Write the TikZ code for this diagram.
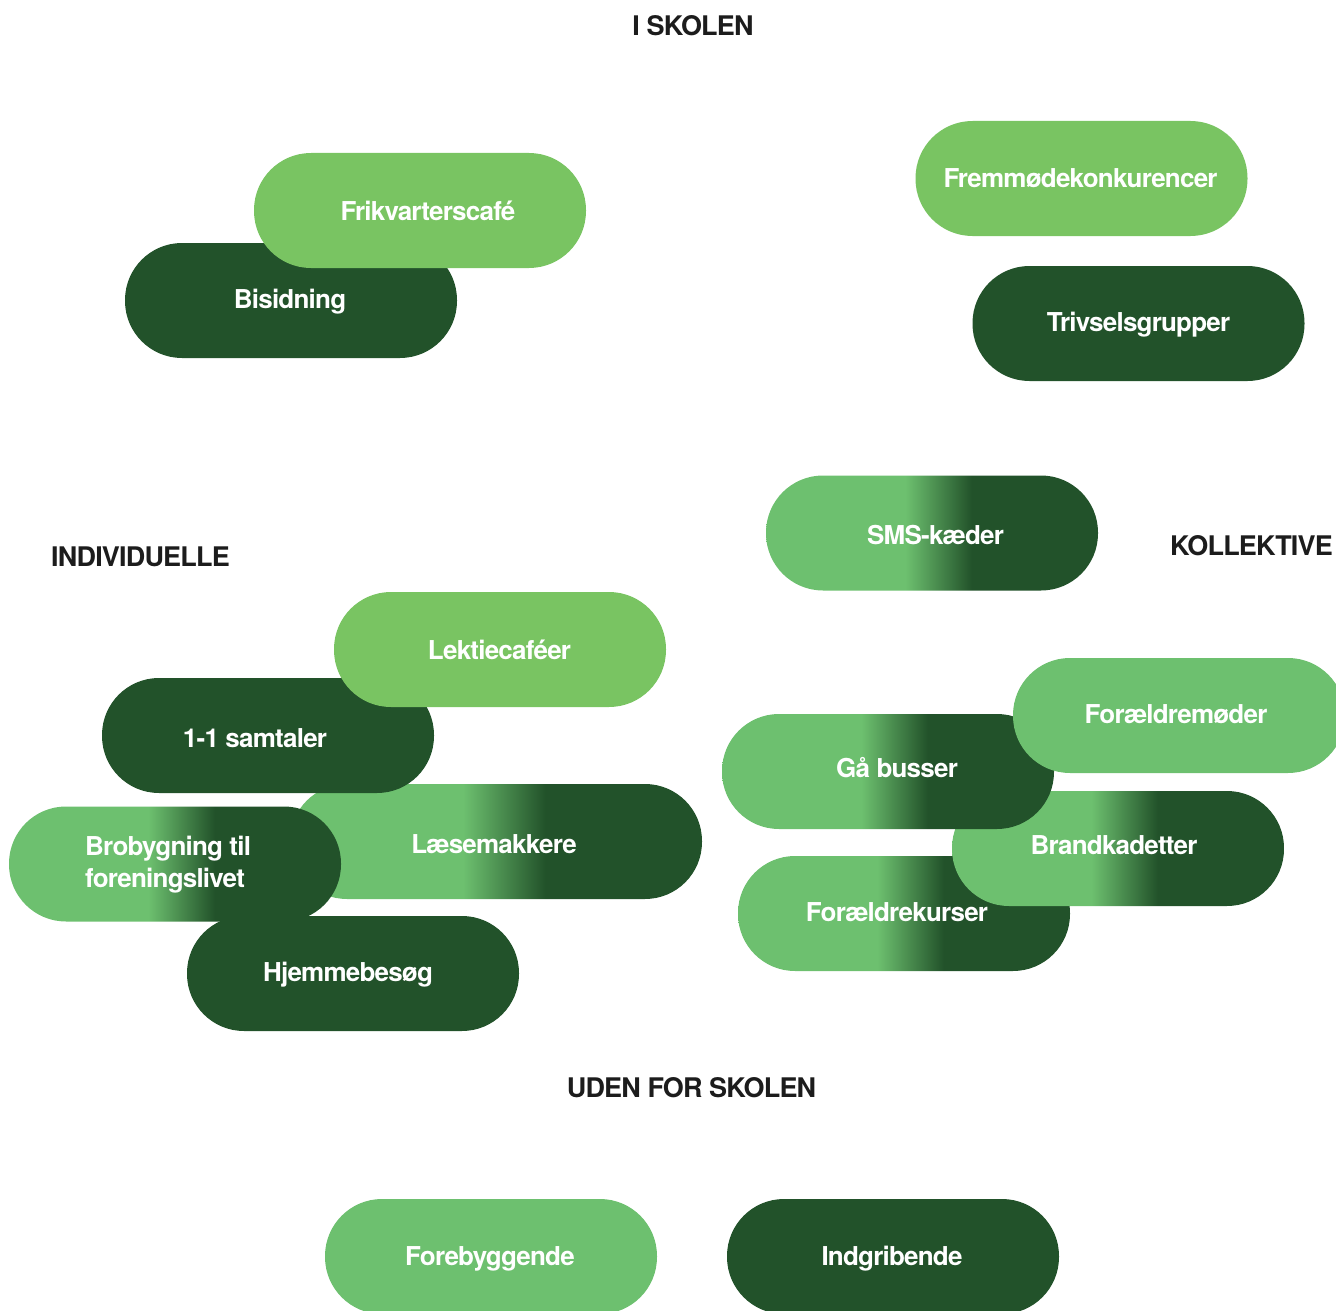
\documentclass[tikz,border=0pt]{standalone}
\usepackage{fontspec}
\setmainfont{TeX Gyre Heros}[LetterSpace=-3]
\definecolor{lgA}{HTML}{79C462}
\definecolor{lgB}{HTML}{6DC06F}
\definecolor{dg}{HTML}{22522A}
\definecolor{hd}{HTML}{1C1C1C}
\pgfdeclarehorizontalshading{pillgrad}{100bp}{color(0bp)=(lgB); color(46bp)=(lgB); color(56bp)=(dg); color(100bp)=(dg)}
\begin{document}
\begin{tikzpicture}[x=1pt,y=-1pt,
  pill/.style={minimum width=332pt, minimum height=115pt, rounded corners=57pt, inner sep=0pt, draw=none},
  liteA/.style={pill, fill=lgA},
  liteB/.style={pill, fill=lgB},
  darkp/.style={pill, fill=dg},
  gradp/.style={pill, shading=pillgrad},
  lbl/.style={text=white, font=\bfseries\fontsize{26}{28}\selectfont, anchor=base, inner sep=0pt},
  head/.style={text=hd, font=\bfseries\fontsize{27}{29}\selectfont, anchor=base, inner sep=0pt}]
\useasboundingbox (0,0) rectangle (1336,1311);
% headings
\node[head] (h1) at (693,35.5) {I SKOLEN};
\node[head] (h2) at (140.5,566.5) {INDIVIDUELLE};
\node[head] (h3) at (1251.5,555.5) {KOLLEKTIVE};
\node[head] (h4) at (691.5,1097.5) {UDEN FOR SKOLEN};
% pills
\node[darkp] (bis) at (291,300.5) {};
\node[liteA] (frik) at (420,210.5) {};
\node[liteA] (frem) at (1081.5,178.5) {};
\node[darkp] (triv) at (1138.5,323.5) {};
\node[gradp] (sms) at (932,533) {};
\node[gradp, minimum width=412pt] (laese) at (496,841.5) {};
\node[darkp] (samt) at (268,735.5) {};
\node[liteA] (lekt) at (500,649.5) {};
\node[gradp] (brob) at (175,864) {};
\node[darkp] (hjem) at (353,973.5) {};
\node[gradp] (kurs) at (904,913.5) {};
\node[gradp] (brand) at (1118,848.5) {};
\node[gradp] (gaa) at (888,771.5) {};
\node[liteB] (fmod) at (1179,715.5) {};
\node[liteB] (fore) at (491,1256.5) {};
\node[darkp] (indg) at (893,1256.5) {};
% labels
\node[lbl] (bis-t) at (290,308.5) {Bisidning};
\node[lbl] (frik-t) at (428,220.5) {Frikvarterscafé};
\node[lbl] (frem-t) at (1080.5,187.5) {Fremmødekonkurencer};
\node[lbl] (triv-t) at (1138.5,331.5) {Trivselsgrupper};
\node[lbl] (sms-t) at (935.5,544.5) {SMS-kæder};
\node[lbl] (laese-t) at (494,853.5) {Læsemakkere};
\node[lbl] (samt-t) at (255,747.5) {1-1 samtaler};
\node[lbl] (lekt-t) at (499.5,659.5) {Lektiecaféer};
\node[lbl, anchor=base west] (brob-t1) at (85,855.5) {Brobygning til};
\node[lbl, anchor=base west] (brob-t2) at (85,887.5) {foreningslivet};
\node[lbl] (hjem-t) at (348,981.5) {Hjemmebesøg};
\node[lbl] (kurs-t) at (897,921.5) {Forældrekurser};
\node[lbl] (brand-t) at (1114,854.5) {Brandkadetter};
\node[lbl] (gaa-t) at (897,777.5) {Gå busser};
\node[lbl] (fmod-t) at (1176,723.5) {Forældremøder};
\node[lbl] (fore-t) at (490,1265.5) {Forebyggende};
\node[lbl] (indg-t) at (892,1265.5) {Indgribende};
\end{tikzpicture}
\end{document}
